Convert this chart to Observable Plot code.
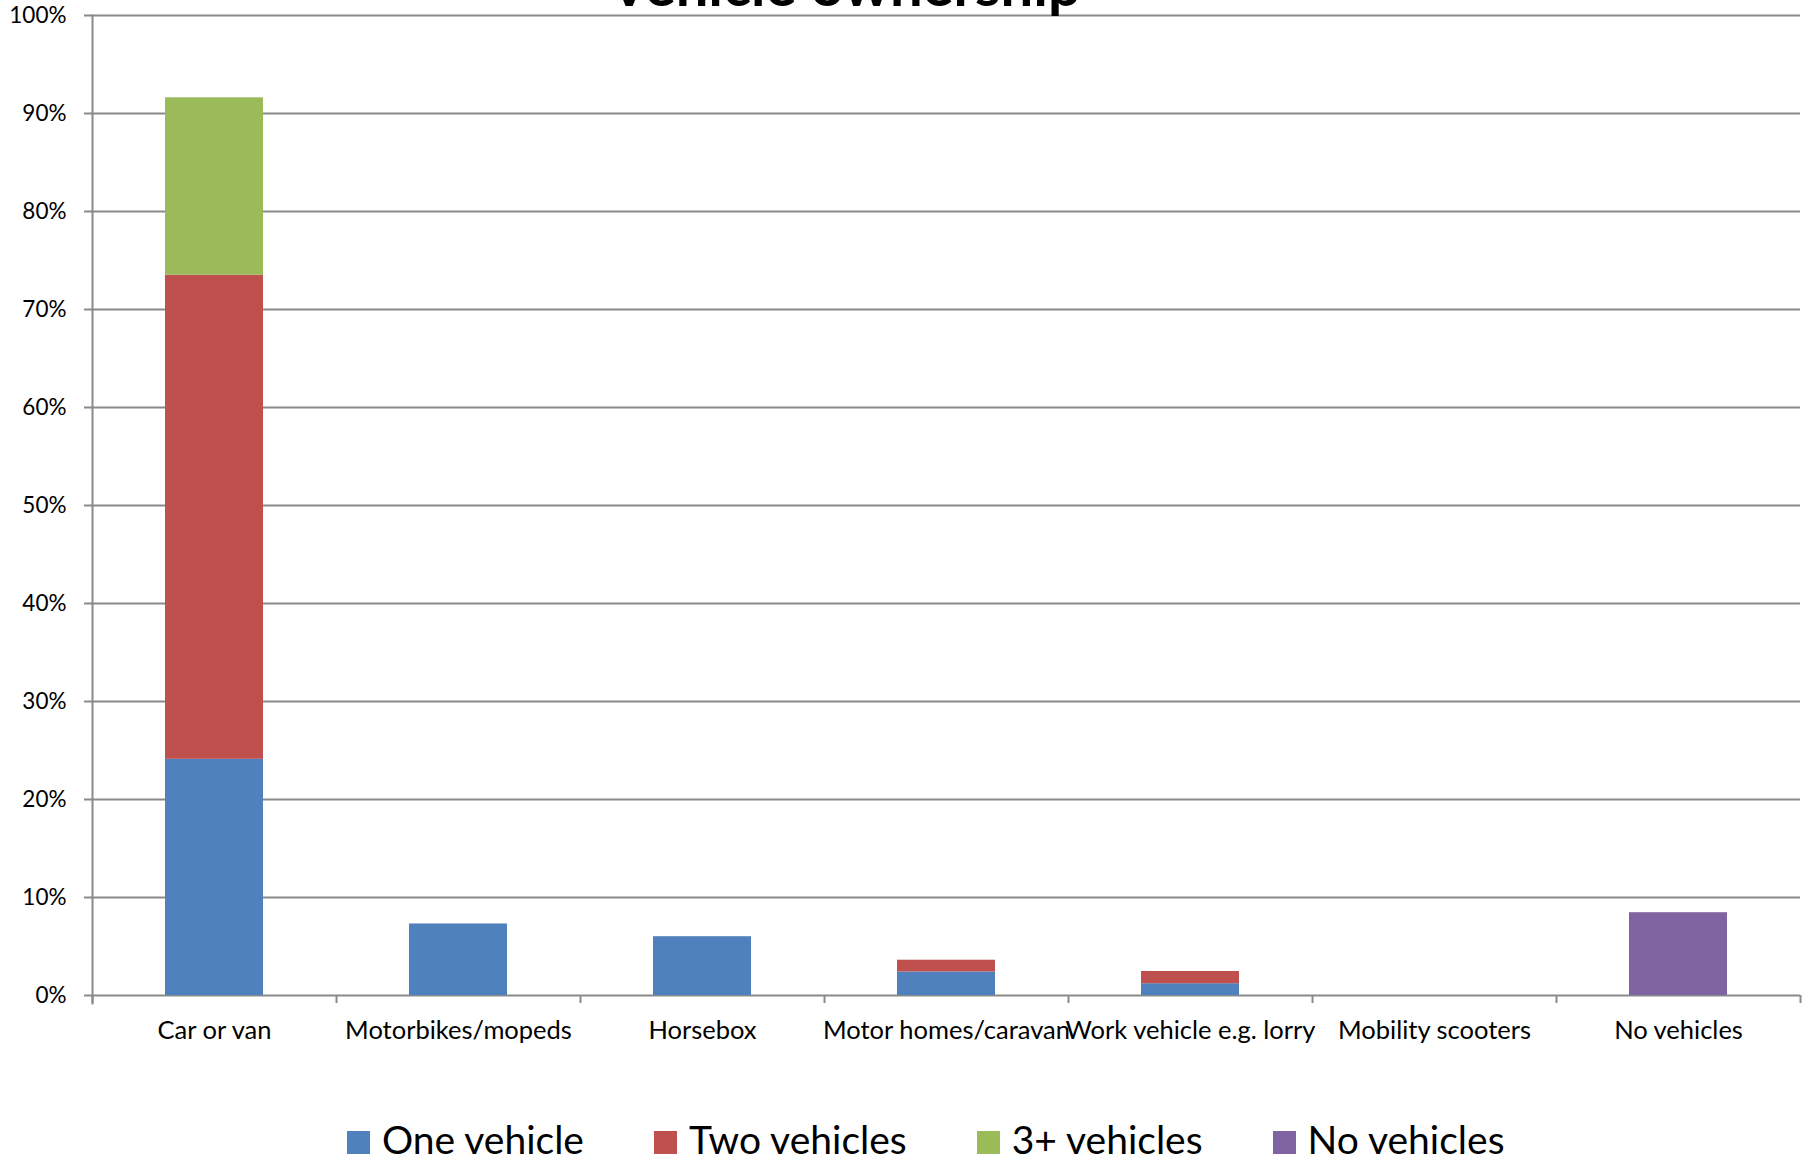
<!DOCTYPE html>
<html>
<head>
<meta charset="utf-8">
<script src="https://cdn.jsdelivr.net/npm/d3@7"></script>
<script src="https://cdn.jsdelivr.net/npm/@observablehq/plot@0.6"></script>
<style>
  html, body { margin: 0; padding: 0; background: #fff; }
  body { width: 1814px; height: 1161px; overflow: hidden; position: relative; font-family: Lato, "Open Sans", sans-serif; }
  #title { position: absolute; z-index: 2; left: 445px; width: 800px; top: -45px; text-align: center; font-weight: bold; font-size: 58px; line-height: 1; color: #000; }
  #chart { position: absolute; z-index: 1; left: 0; top: 0; }
  #legend { position: absolute; z-index: 2; left: 347px; top: 1120px; display: flex; gap: 70px; font-size: 39px; line-height: 1; color: #000; }
  .item { display: flex; align-items: flex-start; gap: 12px; white-space: nowrap; }
  .sw { width: 23px; height: 23px; margin-top: 11px; }
  svg g[aria-label^="x-axis"] text { font-size: 25.5px; }
</style>
</head>
<body>
<div id="title">Vehicle ownership</div>
<div id="chart"></div>
<div id="legend"></div>
<script>
const categories = ["Car or van", "Motorbikes/mopeds", "Horsebox", "Motor homes/caravan", "Work vehicle e.g. lorry", "Mobility scooters", "No vehicles"];
const seriesNames = ["One vehicle", "Two vehicles", "3+ vehicles", "No vehicles"];
const seriesColors = ["#4F81BD", "#C0504D", "#9BBB59", "#8064A2"];
const oneVehicle  = [24.1, 7.3, 6.0, 2.4, 1.2, 0, 0];
const twoVehicles = [49.4, 0, 0, 1.2, 1.25, 0, 0];
const threePlus   = [18.1, 0, 0, 0, 0, 0, 0];
const noVehicles  = [0, 0, 0, 0, 0, 0, 8.45];
const yTicks = [0, 10, 20, 30, 40, 50, 60, 70, 80, 90, 100];

const seriesValues = [oneVehicle, twoVehicles, threePlus, noVehicles];
const table = [];
seriesNames.forEach((s, si) => categories.forEach((c, ci) => {
  table.push({category: c, series: s, value: seriesValues[si][ci]});
}));

const W = 1814, mL = 92, mR = 14, mT = 15, mB = 65, H = 1060;
const paddingInner = 0.6, paddingOuter = 0.3;
const step = (W - mL - mR) / (categories.length - paddingInner + 2 * paddingOuter);
const gridColor = "#8a8a8a";

const chart = Plot.plot({
  width: W, height: H,
  marginLeft: mL, marginRight: mR, marginTop: mT, marginBottom: mB,
  style: {fontFamily: "Lato, sans-serif", fontSize: "22.5px", color: "#000", background: "transparent", overflow: "visible"},
  x: {domain: categories, paddingInner, paddingOuter, align: 0.5, tickSize: 0, tickPadding: 25, label: null},
  y: {domain: [0, 100], ticks: yTicks, tickFormat: d => d + "%", tickSize: 0, tickPadding: 26, label: null},
  color: {domain: seriesNames, range: seriesColors},
  marks: [
    Plot.ruleY(yTicks, {stroke: gridColor, strokeWidth: 2, insetLeft: -8}),
    Plot.barY(table, {x: "category", y: "value", fill: "series", order: seriesNames}),
    Plot.ruleX(categories, {x: d => d, y1: 0, y2: 0, insetBottom: -8, dx: -step / 2, stroke: gridColor, strokeWidth: 2}),
    Plot.ruleX([categories[categories.length - 1]], {x: d => d, y1: 0, y2: 0, insetBottom: -8, dx: step / 2, stroke: gridColor, strokeWidth: 2}),
    Plot.frame({anchor: "left", stroke: gridColor, strokeWidth: 2, insetBottom: -8})
  ]
});
document.getElementById("chart").appendChild(chart);

const legend = document.getElementById("legend");
seriesNames.forEach((s, i) => {
  const item = document.createElement("div");
  item.className = "item";
  const sw = document.createElement("div");
  sw.className = "sw";
  sw.style.background = seriesColors[i];
  const t = document.createElement("span");
  t.textContent = s;
  item.appendChild(sw);
  item.appendChild(t);
  legend.appendChild(item);
});
</script>
</body>
</html>
